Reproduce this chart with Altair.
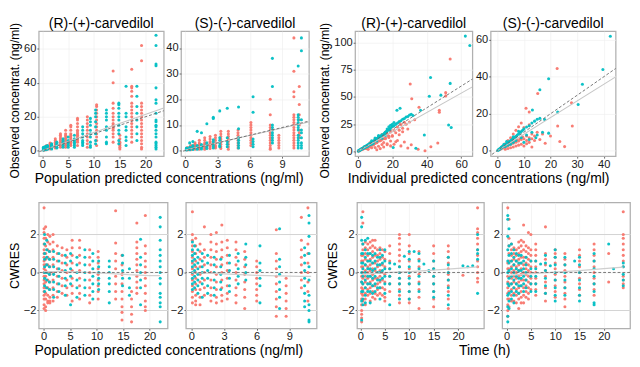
import altair as alt
import pandas as pd

RED = "#F8766D"
TEAL = "#00BFC4"
FONT = "Liberation Sans"

# ---------------- data: (R) population predicted vs observed ----------------
tl_r_red = {
    0.3: [0.2, 0.5, 0.8, 1.0, 1.3, 1.6, 2.0],
    0.8: [0.5, 1, 1.5, 2, 2.5, 3],
    1.5: [1, 1.5, 2, 2.5, 3, 3.5, 4, 4.5],
    2.5: [1.5, 2.5, 3, 4, 5, 6, 7],
    3.5: [2, 3, 4, 5, 6, 7, 8, 9, 10],
    4.5: [2, 3, 4, 5, 6, 7, 8, 9, 10, 12],
    5.5: [3, 4, 5, 6, 7, 8, 9, 10, 12, 14, 15],
    6.8: [3, 5, 6, 7, 8, 9, 10, 11, 12, 14, 16, 18, 19],
    8.7: [2, 4, 6, 8, 10, 12, 14, 16, 18, 20],
    10.5: [3, 6, 8, 10, 12, 14, 16, 18, 20, 22, 24, 26, 27],
    13.7: [5, 8, 10, 12, 13, 14, 15, 16, 18, 20, 22, 25, 28, 40, 47],
    15.0: [1, 2, 3, 4, 5, 7, 9],
    17.3: [5, 8, 10, 12, 14, 16, 18, 20, 22, 24, 26, 28, 32, 35, 37, 38, 48],
    19.2: [1, 2, 4, 6, 8, 10, 12, 14, 16, 18, 20, 22, 24, 26, 28, 53, 62],
}
tl_r_teal = {
    0.2: [0.3, 0.6, 1, 1.3, 1.6, 2],
    0.6: [0.5, 1, 1.5, 2, 2.5],
    1.0: [0.8, 1.2, 1.6, 2, 2.4, 3],
    1.8: [1, 1.5, 2, 2.5, 3, 3.5, 4],
    2.8: [1.5, 2, 3, 3.5, 4, 5],
    4.0: [2, 3, 4, 5, 6, 7],
    5.0: [2, 3, 4, 5, 6, 8],
    6.2: [2, 3, 4, 5, 6, 7, 9],
    7.8: [3, 4, 5, 6, 8, 10, 12, 14],
    9.3: [2, 3, 5, 8, 10, 12, 15, 17, 19],
    10.3: [4, 6, 10, 14, 17, 20, 22, 24],
    12.4: [4, 5, 8, 12, 14, 18, 20, 22, 24],
    14.8: [4, 6, 10, 12, 15, 18, 20, 22, 25, 27, 28],
    16.2: [3, 6, 8, 12, 14, 20, 22, 38],
    18.3: [6, 10, 14, 18, 22, 26, 32, 38],
    22.0: [1, 2, 3, 4, 5, 8, 10, 12, 14, 15, 17, 18, 22, 28, 30, 37, 50, 51, 62, 68],
}
tl_r_fit_x = [0, 23.5]
tl_r_fit_y = [0, 25.1]

# ---------------- (S) population predicted vs observed ----------------
tl_s_red = {
    0.2: [0.2, 0.5, 0.8, 1.2],
    0.5: [0.3, 0.6, 1, 1.5, 2],
    0.9: [0.5, 1, 1.5, 2, 2.5, 3],
    1.3: [0.5, 1, 1.5, 2, 2.5, 3, 4],
    1.8: [0.5, 1, 1.5, 2, 2.5, 3, 4, 5],
    2.3: [0.8, 1.5, 2, 2.5, 3, 3.5, 4.5, 5.5],
    2.8: [1, 1.5, 2, 3, 4, 5, 6],
    3.3: [0.8, 1.5, 2.5, 3.5, 4.5, 5.5, 6.5, 7.5],
    4.0: [0.5, 1.5, 2.5, 3.5, 4.5, 5.5, 6.5, 7.5],
    4.9: [1, 2, 3, 4, 5, 6, 7, 8],
    6.1: [2, 3, 4, 5, 6, 7, 8, 9, 10, 11],
    7.9: [0.5, 1, 2, 3, 4, 5, 6, 7, 8, 9, 10, 14, 20],
    8.7: [1, 2, 3, 4, 5, 6],
    10.1: [1, 2, 3, 4, 5, 6, 7, 8, 9, 10, 11, 12, 13, 14, 21, 23, 31, 44],
    10.6: [5, 6, 7, 8, 10, 12, 14, 18, 25],
}
tl_s_teal = {
    0.1: [0.2, 0.5, 0.8, 1],
    0.4: [0.3, 0.6, 1, 1.3, 3],
    0.7: [0.4, 0.8, 1.2, 1.6, 2, 3.5],
    1.1: [0.5, 1, 1.5, 2, 7.5],
    1.5: [0.6, 1.2, 1.8, 2.4, 7],
    2.0: [0.8, 1.5, 2.2, 3, 10.5],
    2.6: [1, 1.8, 2.6, 3.4, 4.2, 13, 12.5],
    3.2: [1.5, 2, 3, 4, 5, 15.5],
    3.9: [1.5, 2.5, 3.5, 5, 16.5],
    4.95: [1, 2, 3, 4, 5, 8.5, 17],
    6.3: [1.5, 2.5, 3.5, 4.5, 15, 21],
    8.1: [3, 4, 5, 6, 7, 8, 9, 10, 25, 36],
    10.5: [1, 2, 3, 4, 5, 6, 8, 9, 10, 11, 12, 13, 14, 33],
    10.8: [1, 2, 3, 5, 7, 8, 12, 39, 44],
}
tl_s_fit_x = [0, 11.5]
tl_s_fit_y = [0.2, 11.2]

# ---------------- (R) individual predicted vs observed ----------------
tr_r_teal_x = [0.2, 0.4, 0.6, 0.8, 1.0, 1.2, 1.5, 1.8, 2.0, 2.3, 2.6, 3.0, 3.3, 3.6, 4.0, 4.4, 4.8, 5.2, 5.6, 6.0,
               6.5, 7.0, 7.5, 8.0, 8.5, 9.0, 9.5, 10, 10.5, 11, 11.5, 12, 12.5, 13, 13.5, 14, 15, 15.5, 16, 16.5,
               17, 18, 18.5, 19, 20, 21, 22, 23, 24, 25, 26, 27, 28, 29, 30, 31, 32, 21, 20, 19,
               18, 9, 11, 6, 8, 3, 5, 7, 4, 22.7, 24.5, 36.4, 42.2, 41.5, 48.2, 53.6, 52.7, 54.2, 38.6, 33.7,
               20.5, 62.4, 65, 14, 16, 17, 12, 10, 8]
tr_r_teal_y = [0.2, 0.5, 0.6, 0.9, 1.1, 1.0, 1.6, 1.7, 2.2, 2.1, 2.8, 3.1, 3.0, 3.9, 4.1, 4.6, 4.7, 5.6, 5.4, 6.3,
               6.8, 7.2, 7.9, 8.3, 8.4, 9.5, 9.8, 10.6, 10.4, 11.8, 12.2, 12.9, 12.0, 14.0, 13.8, 15.2, 16.0, 16.8, 17.5, 18.2,
               18.8, 19.7, 20.5, 21.5, 22.8, 23.5, 24.8, 26.0, 27.5, 28.2, 29.5, 30.2, 31.5, 32.0, 33.5, 34.2, 33.0, 26.5, 25, 24,
               22.5, 7.5, 9.5, 4.8, 6.5, 2.5, 4, 6, 3.3, 37.8, 39.7, 37.8, 68, 50.6, 51.7, 62.5, 24.2, 21.9, 15, 2.9,
               3.5, 106, 97.4, 12, 14.5, 20.5, 14.5, 12.2, 9.8]
tr_r_red_x = [0.5, 1, 1.5, 2, 2.5, 3, 3.5, 4, 4.5, 5, 5.5, 6, 6.5, 7, 7.5, 8, 8.5, 9, 9.5, 10,
              10.5, 11, 11.5, 12, 12.5, 13, 13.5, 14, 14.5, 15, 15.5, 16, 17, 17.5, 18, 19, 20, 21, 22, 23,
              24, 25, 26, 27, 5, 6, 7, 8, 9, 10, 11, 12, 13, 14, 15, 16, 17, 18, 19, 20,
              22, 24, 11, 13, 15, 17, 19, 21, 23, 25, 27, 29, 31, 35, 39, 42.4, 46.4, 30.4, 31.3, 35.5,
              47.3, 47.3, 53.6, 51, 51, 28, 30, 33, 29, 26, 24, 20, 18, 16, 12, 14, 10, 7, 4, 2]
tr_r_red_y = [0.4, 0.6, 1.3, 1.4, 2.1, 2.0, 3.1, 2.6, 3.9, 3.3, 4.9, 4.1, 5.9, 4.8, 6.9, 5.5, 8.0, 6.4, 8.9, 7.3,
              10.1, 8.2, 11.0, 9.4, 12.2, 9.9, 13.1, 11.0, 14.4, 11.6, 15.2, 12.5, 15.9, 14.8, 13.9, 17.8, 14.6, 19.2, 17.0, 22.4,
              19.5, 24.6, 21.2, 26.8, 2.5, 1.8, 4.1, 3.2, 5.8, 3.5, 7.9, 4.6, 9.8, 6.2, 8.1, 11.5, 7.0, 12.8, 9.5, 13.9,
              8.8, 15.2, 1.5, 2.5, 4.0, 6.0, 5.0, 6.5, 10.0, 5.0, 8.5, 3.0, 6.0, 2.0, 0.5, 4.3, 7.7, 62, 48.3, 40.6,
              37.8, 36, 85, 54, 51, 25, 27, 29, 20.5, 18, 26.5, 22.5, 20, 17.8, 13.5, 15.5, 11.5, 7.8, 4.5, 2.3]
tr_r_fit_x = [0, 66.5]
tr_r_fit_y = [0, 59.3]

# ---------------- (S) individual predicted vs observed ----------------
tr_s_teal_x = [0.2, 0.4, 0.6, 0.8, 1.0, 1.2, 1.5, 1.8, 2.0, 2.3, 2.6, 3.0, 3.3, 3.6, 4.0, 4.4, 4.8, 5.2, 5.6, 6.0,
               6.5, 7.0, 7.5, 8.0, 8.5, 9.0, 9.5, 10, 11, 12, 13, 14, 15, 16, 17.8, 19.3, 22.7, 30.4, 32, 19.3,
               16, 39.7, 42.5, 13.2, 5, 7, 9, 3, 4, 6, 11, 13, 14.5, 15, 17, 10, 12, 6, 8, 3.5, 2.5, 1.5]
tr_s_teal_y = [0.2, 0.4, 0.7, 0.8, 1.1, 1.2, 1.6, 1.8, 2.2, 2.4, 2.8, 3.2, 3.5, 3.9, 4.3, 4.8, 5.2, 5.6, 6.1, 6.6,
               7.2, 7.8, 8.5, 9.0, 9.8, 10.4, 11.0, 11.8, 12.8, 13.5, 15.0, 16.0, 17.0, 17.5, 16.9, 9.5, 21, 25, 36, 39,
               33, 44, 62, 22, 3.5, 5.5, 7, 2.2, 3, 4.5, 8.5, 10, 7, 8.5, 10, 4.5, 6, 7.5, 10.5, 5, 3.5, 2]
tr_s_red_x = [0.5, 1, 1.5, 2, 2.5, 3, 3.5, 4, 4.5, 5, 5.5, 6, 6.5, 7, 7.5, 8, 8.5, 9, 9.5, 10,
              11, 12, 13, 14, 15, 3, 4, 5, 6, 7, 8, 9, 10, 11, 12, 13, 14, 16, 18, 22.5,
              15.2, 10.8, 12, 27.9, 28.2, 22.7, 23.5, 25.3, 8, 9, 7, 6, 10, 12, 5, 4, 2, 3, 11, 13,
              17, 20]
tr_s_red_y = [0.4, 0.7, 1.0, 1.4, 1.8, 2.0, 2.6, 2.8, 3.4, 3.5, 4.2, 4.0, 5.0, 4.6, 5.8, 5.2, 6.5, 6.0, 7.5, 6.5,
              8.0, 7.0, 9.0, 8.0, 10.0, 0.8, 1.2, 1.6, 2.0, 2.5, 3.0, 3.5, 2.5, 3.8, 4.5, 2.0, 5.5, 6.0, 4.0, 44.5,
              31, 23, 21, 25.9, 13.4, 13.4, 5, 2.2, 13, 15, 11, 9, 12.5, 14, 7, 5.5, 2.5, 3.8, 5.5, 6.5,
              9, 8]
tr_s_fit_x = [0, 44.5]
tr_s_fit_y = [0, 40]

# ---------------- CWRES vs population predicted ----------------
bl_r_red = {
    0.1: [3.4, 2.3, 2.1, 1.8, 1.5, 1.2, 1.0, 0.8, 0.6, 0.4, 0.2, 0, -0.2, -0.4, -0.6, -0.8, -1.0, -1.2, -1.4, -1.7, -1.9],
    0.4: [2.4, 1.8, 1.4, 1.0, 0.7, 0.4, 0.1, -0.2, -0.5, -0.8, -1.1, -1.4, -1.8, -2.0],
    0.8: [2.0, 1.6, 1.2, 0.8, 0.4, 0, -0.4, -0.8, -1.2, -1.5, -1.6],
    1.2: [1.9, 1.5, 1.1, 0.7, 0.3, -0.1, -0.5, -0.9, -1.3, -1.6, -1.5],
    1.8: [2.0, 1.6, 1.2, 0.8, 0.4, 0, -0.4, -0.8, -1.2, -1.5],
    2.6: [1.4, 1.0, 0.6, 0.2, -0.2, -0.6, -1.0, -1.3],
    3.5: [1.3, 0.9, 0.5, 0.1, -0.3, -0.7, -1.1],
    4.4: [1.2, 0.8, 0.4, 0, -0.4, -0.8, -1.2],
    5.4: [1.7, 1.3, 0.9, 0.5, 0.1, -0.3, -0.7, -1.1, -1.5],
    6.8: [1.7, 1.3, 0.9, 0.5, 0.1, -0.3, -0.7, -1.1, -1.4],
    8.7: [1.2, 0.8, 0.4, 0, -0.4, -0.8, -1.2, -1.6],
    10.3: [1.1, 0.8, 0.5, 0.2, -0.1, -0.4, -0.7, -1.0, -1.4],
    13.6: [3.25, 1.55, 1.0, 0.6, 0.2, -0.2, -0.6, -1.0, -1.4],
    14.8: [0.9, 0.4, -0.1, -0.6, -1.0, -1.4, -1.8, -2.1, -2.5],
    16.6: [-1.0, -1.4, -1.8, -2.2, -2.6],
    17.6: [2.6, 1.6, 1.3, 1.0, 0.7, 0.4, 0.1, -0.2, -0.5, -0.8, -1.1],
    19.2: [3.0, 1.4, 1.0, 0.6, 0.3, 0, -0.3, -0.7, -1.1, -1.5, -1.8, -2.0],
}
bl_r_teal = {
    0.2: [2.0, 1.5, 1.0, 0.7, 0.3, 0, -0.3, -0.7, -1.0],
    0.6: [1.7, 1.2, 0.8, 0.4, 0, -0.4, -0.8],
    1.1: [1.1, 0.7, 0.3, -0.1, -0.5, -0.9],
    1.9: [1.1, 0.7, 0.3, -0.1, -0.5, -0.9, -1.3],
    2.9: [1.0, 0.6, 0.2, -0.2, -0.6, -1.0],
    4.1: [0.9, 0.5, 0.1, -0.3, -0.7, -1.2],
    5.1: [1.0, 0.6, 0.2, -0.2, -0.6, -1.7],
    6.3: [0.8, 0.4, 0, -0.4, -0.8, -1.3],
    7.8: [1.2, 0.8, 0.4, 0, -0.4, -0.8, -1.2],
    9.3: [1.0, 0.6, 0.2, -0.2, -0.6, -1.0, -1.4],
    10.4: [0.6, 0.3, 0, -0.3, -0.6, -0.9],
    12.4: [0.6, 0.3, 0, -0.3, -0.6, -1.0, -1.6],
    14.9: [0.9, 0.5, 0.1, -0.3, -0.7],
    16.2: [0.2, -0.3, -0.8, -1.2],
    18.3: [1.75, 0.8, 0.4, 0, -0.4, -0.8, -1.7],
    22.0: [2.9, 2.4, 1.7, 1.2, 0.9, 0.6, 0.3, 0, -0.3, -0.6, -1.1, -1.3, -1.6, -1.8, -2.6],
}
bl_r_smooth_x = [0, 4, 8, 12, 16, 20, 22]
bl_r_smooth_y = [0.05, 0.05, 0, -0.05, -0.12, -0.16, -0.16]

bl_s_red = {
    0.1: [3.2, 2.0, 1.7, 1.4, 1.1, 0.8, 0.5, 0.2, -0.1, -0.4, -0.7, -1.0, -1.3, -1.6],
    0.4: [1.8, 1.4, 1.0, 0.6, 0.3, 0, -0.3, -0.6, -0.9, -1.2, -1.5, -1.7],
    0.8: [1.5, 1.1, 0.7, 0.3, -0.1, -0.5, -0.9, -1.3, -1.7],
    1.2: [2.4, 1.2, 0.8, 0.4, 0, -0.4, -0.8, -1.2],
    1.8: [2.0, 1.6, 1.2, 0.8, 0.4, 0, -0.4, -0.8, -1.2, -1.5],
    2.3: [2.1, 1.5, 1.1, 0.7, 0.3, -0.1, -0.5, -0.9, -1.3, -1.6],
    2.8: [2.5, 1.6, 1.2, 0.8, 0.4, 0, -0.4, -0.8, -1.2, -1.5],
    3.3: [1.7, 1.3, 0.9, 0.5, 0.1, -0.3, -0.7, -1.1, -1.4],
    4.1: [1.6, 1.2, 0.8, 0.4, 0, -0.4, -0.8, -1.2, -1.6],
    4.9: [1.1, 0.7, 0.3, -0.1, -0.5, -0.9, -1.3, -1.9],
    6.0: [0.6, 0.3, 0, -0.3, -0.6, -0.9, -1.2, -1.5],
    7.8: [2.25, 1.0, 0.6, 0.2, -0.2, -0.6, -1.0, -1.4, -1.8, -2.3],
    8.7: [-0.3, -0.7, -1.1, -1.5, -1.9, -2.3],
    10.1: [2.9, 1.7, 1.2, 0.8, 0.4, 0, -0.4, -0.8],
    10.7: [3.4, 1.5, 1.0, 0.5, 0, -0.5, -1.0, -1.5],
}
bl_s_teal = {
    0.1: [1.6, 1.2, 0.9, 0.6, 0.3, 0, -0.3, -0.6, -0.9],
    0.3: [1.4, 1.0, 0.7, 0.4, 0.1, -0.2, -0.5, -0.8],
    0.6: [1.2, 0.8, 0.5, 0.2, -0.1, -0.4, -0.7, -1.1],
    1.0: [1.0, 0.6, 0.3, 0, -0.3, -0.6, -1.3],
    1.5: [0.9, 0.5, 0.1, -0.3, -0.7, -1.1],
    2.1: [0.8, 0.4, 0, -0.4, -0.8, -1.2],
    2.7: [0.7, 0.3, -0.1, -0.5, -0.9],
    3.5: [0.9, 0.5, 0.1, -0.3, -0.7, -1.0],
    4.3: [1.0, 0.6, 0.2, -0.2, -0.6],
    5.0: [1.5, 0.8, 0.4, 0, -0.4],
    6.3: [1.4, 0.5, 0.1, -0.3, -0.7, -1.6],
    8.1: [2.3, 0.7, 0.3, -0.1, -0.5, -0.9, -1.3, -1.9],
    10.4: [1.3, 0.9, 0.5, 0.1, -0.3, -0.7, -1.1, -1.5, -1.8],
    10.8: [3.0, 2.6, 1.9, 1.0, 0.3, -0.4, -1.2, -1.7, -2.0, -2.5, -2.6],
}
bl_s_smooth_x = [0, 2, 4, 6, 8, 10, 11]
bl_s_smooth_y = [0, -0.05, -0.1, -0.15, -0.18, -0.2, -0.2]

# ---------------- CWRES vs time ----------------
br_r_red = {
    0.25: [-2.6, -2.4, -2.2, -2.0, -1.7, -1.4, -1.1, -0.8, -0.5, -0.2, 0.3, 0.6, 0.9],
    0.5: [3.2, 2.6, 1.5, 1.2, 0.9, 0.6, 0.3, 0, -0.3, -0.6, -0.9, -1.2, -1.5],
    1: [1.6, 1.3, 1.0, 0.7, 0.4, 0.1, -0.2, -0.5, -0.8, -1.1, -1.4, -1.7],
    1.5: [1.5, 1.2, 0.9, 0.6, 0.3, 0, -0.3, -0.6, -0.9, -1.2],
    2: [1.6, 1.3, 1.0, 0.7, 0.4, 0.1, -0.2, -0.5, -0.8, -1.1, -1.5],
    2.5: [1.7, 1.4, 1.1, 0.8, 0.5, 0.2, -0.1, -0.4, -0.7, -1.0, -1.3],
    3: [1.7, 1.3, 0.9, 0.5, 0.1, -0.3, -0.7, -1.1, -1.4],
    3.5: [1.2, 0.9, 0.6, 0.3, 0, -0.3, -0.6, -0.9, -1.2],
    4: [1.3, 1.0, 0.7, 0.4, 0.1, -0.2, -0.5, -0.8, -1.1],
    4.5: [1.2, 0.8, 0.4, 0, -0.4, -0.8, -1.2],
    5: [1.1, 0.7, 0.3, -0.1, -0.5, -0.9, -1.3, -1.5],
    6: [1.4, 1.0, 0.6, 0.2, -0.2, -0.6, -1.0],
    8: [2.0, 1.8, 1.5, 1.2, 0.9, 0.6, 0.3, 0, -0.3, -0.6, -0.9, -1.2, -1.6],
    10: [2.0, 1.4, 1.0, 0.6, 0.2, -0.2, -0.6, -1.0, -1.4, -1.6],
    12: [1.1, 0.7, 0.3, -0.1, -0.5, -0.9, -1.3, -1.9],
    15: [1.4, 1.0, 0.6, 0.2, -0.2, -0.6, -1.0, -1.4, -1.8],
    18: [1.4, 1.1, 0.8, 0.5, 0.2, -0.1, -0.4, -0.7, -1.0, -1.4, -1.9],
    21: [-0.15],
    24: [3.4, 2.3, 2.1, 1.8, 1.5, 1.2, 0.9, 0.6, 0.3, 0, -0.3, -0.5],
}
br_r_teal = {
    0.25: [2.9, 2.4, 1.7, 1.0, 0.5, 0, -0.5, -1.0, -1.5, -2.5],
    0.5: [1.5, 1.0, 0.5, 0.2, -0.2, -0.6, -1.0, -1.4, -1.7],
    1: [1.7, 1.2, 0.8, 0.4, 0, -0.4, -0.8, -1.2, -1.6],
    1.5: [1.8, 1.0, 0.6, 0.2, -0.2, -0.6, -1.0],
    2: [1.0, 0.6, 0.2, -0.2, -0.6, -1.0, -1.6],
    2.5: [0.9, 0.5, 0.1, -0.3, -0.7, -1.1],
    3: [1.0, 0.6, 0.2, -0.2, -0.6, -1.0],
    3.5: [0.8, 0.4, 0, -0.4, -0.8],
    4: [1.2, 0.8, 0.4, 0, -0.4, -0.8, -1.4],
    4.5: [0.9, 0.5, 0.1, -0.3],
    5: [1.2, 0.6, 0.2, -0.2, -0.6, -1.1],
    6: [0.5, 0.2, -0.2, -0.6, -1.7],
    7: [0.45],
    8: [0.3, 0, -0.3, -0.6, -1.0, -1.4],
    9: [0.85],
    10: [1.1, 0.7, 0.3, 0, -0.3, -0.6, -1.0, -1.4],
    11: [1.1],
    12: [1.0, 0.6, 0.2, -0.2, -0.6, -1.0],
    13: [0.45],
    14: [0.1],
    15: [0.6, 0.2, -0.2, -0.6, -1.0, -1.3],
    18: [0.8, 0.4, 0, -0.4, -0.8, -1.2, -1.7],
    21: [0.35],
    22: [0.3],
    23: [0.35],
    24: [2.0, 1.2, 1.0, 0.7, -1.1],
}
br_r_smooth_x = [0.25, 3, 6, 10, 15, 20, 24]
br_r_smooth_y = [-0.1, -0.05, 0, 0.05, 0.12, 0.22, 0.3]

br_s_red = {
    0.25: [3.4, -2.3, -2.0, -1.7, -1.4, -1.1, -0.8, -0.5, -0.2, 0.2, 0.5],
    0.5: [2.8, 1.8, 1.4, 1.0, 0.6, 0.2, -0.2, -0.6, -1.0, -1.4, -1.8],
    1: [1.5, 1.2, 0.9, 0.6, 0.3, 0, -0.3, -0.6, -0.9, -1.2, -1.5],
    1.5: [1.3, 1.0, 0.7, 0.4, 0.1, -0.2, -0.5, -0.8, -1.1, -1.5],
    2: [1.2, 0.9, 0.6, 0.3, 0, -0.3, -0.6, -0.9, -1.2, -1.6],
    2.5: [1.6, 1.3, 1.0, 0.7, 0.4, 0.1, -0.2, -0.5, -0.8, -1.1, -1.4, -1.9],
    3: [1.7, 1.4, 1.1, 0.8, 0.5, 0.2, -0.1, -0.4, -0.7, -1.0, -1.3, -1.6],
    3.5: [2.5, 1.6, 1.2, 0.8, 0.4, 0, -0.4, -0.8, -1.2, -1.6],
    4: [1.4, 1.1, 0.8, 0.5, 0.2, -0.1, -0.4, -0.7, -1.0, -1.3],
    4.5: [2.1, 1.3, 1.0, 0.7, 0.4, 0.1, -0.2, -0.5, -0.8, -1.1, -1.4],
    5: [2.0, 1.2, 0.9, 0.6, 0.3, 0, -0.3, -0.6, -0.9],
    6: [1.5, 1.2, 0.9, 0.6, 0.3, 0, -0.3, -0.6, -0.9, -1.2],
    8: [2.4, 1.0, 0.7, 0.4, 0.1, -0.2, -0.5, -0.8, -1.1, -1.5],
    10: [1.2, 1.0, 0.8, 0.5, 0.2, -0.1, -0.4, -0.7, -1.0, -1.3],
    12: [1.0, 0.7, 0.4, 0.1, -0.2, -0.5, -0.8, -1.1, -1.4, -1.8],
    15: [1.2, 0.9, 0.6, 0.3, 0, -0.3, -0.6, -0.9, -1.2],
    18: [1.5, 1.2, 0.9, 0.6, 0.3, 0, -0.3, -0.6, -0.9, -1.2],
    21: [1.0, -0.5],
    24: [3.2, 2.0, 1.8, 1.5, 1.2, 0.9, 0.6, 0.3, -0.2, -0.4, -0.6, -0.8],
}
br_s_teal = {
    0.25: [3.0, 2.8, 1.9, 1.2, 0.6, 0, -0.6, -1.2, -1.8, -2.3, -2.6],
    0.5: [2.3, 1.4, 0.9, 0.5, 0.1, -0.3, -0.7, -1.1, -1.5, -1.9],
    1: [1.5, 1.0, 0.6, 0.2, -0.2, -0.6, -1.0, -1.4],
    1.5: [1.2, 0.8, 0.4, 0, -0.4, -0.8, -1.2, -1.6],
    2: [1.0, 0.6, 0.2, -0.2, -0.6, -1.0],
    2.5: [0.9, 0.5, 0.1, -0.3, -0.7, -1.1],
    3: [0.9, 0.5, 0.1, -0.3, -0.7],
    3.5: [0.6, 0.2, -0.2, -0.6, -1.0],
    4: [0.8, 0.4, 0, -0.4, -0.8],
    5: [0.6, 0.2, -0.2, -0.6, -1.0],
    6: [0.6, 0.2, -0.2, -0.6, -1.0],
    7: [0.45],
    8: [0.9, 0.5, 0.1, -0.3, -0.7, -1.1],
    9: [0.35],
    10: [1.2, 0.8, 0.4, 0, -0.4, -0.8, -1.2, -1.5],
    12: [0.8, 0.4, 0, -0.4, -0.8, -1.2],
    14: [0.6],
    15: [0.8, 0.4, 0, -0.4, -0.8, -1.2, -1.5],
    18: [1.0, 0.6, 0.2, -0.2, -0.6, -1.0, -1.6, -1.7],
    21: [1.5],
    22: [0.2],
    24: [0.5, 0.3, -0.1, -0.4, -0.7],
}
br_s_smooth_x = [0.25, 3, 6, 10, 15, 20, 24]
br_s_smooth_y = [-0.15, -0.1, -0.05, 0.02, 0.1, 0.2, 0.28]

cwres_bands = [-2, 2]
titles = ["(R)-(+)-carvedilol", "(S)-(-)-carvedilol"]


# ---------------- helpers ----------------
def cols_df(red, teal):
    rows = []
    for x, ys in red.items():
        rows += [{"x": x, "y": y, "g": "a"} for y in ys]
    for x, ys in teal.items():
        rows += [{"x": x, "y": y, "g": "b"} for y in ys]
    return pd.DataFrame(rows)


def pairs_df(rx, ry, tx, ty):
    rows = [{"x": a, "y": b, "g": "a"} for a, b in zip(rx, ry)]
    rows += [{"x": a, "y": b, "g": "b"} for a, b in zip(tx, ty)]
    return pd.DataFrame(rows)


def panel(pts, xdom, ydom, xt, yt, w, h, ytitle=None, title=None,
          identity=None, fit=None, smooth=None, cwres=False):
    xs = alt.Scale(domain=xdom, nice=False, zero=False)
    ys = alt.Scale(domain=ydom, nice=False, zero=False)
    xax = alt.Axis(values=xt, title=None)
    yax = alt.Axis(values=yt, title=ytitle)
    X = alt.X("x:Q", scale=xs, axis=xax)
    Y = alt.Y("y:Q", scale=ys, axis=yax)
    layers = []
    if cwres:
        band = pd.DataFrame({"y": cwres_bands})
        layers.append(alt.Chart(band).mark_rule(color="#d4d4d4", strokeWidth=1.2).encode(
            y=alt.Y("y:Q", scale=ys, axis=yax)))
    layers.append(alt.Chart(pts).mark_circle(size=10, opacity=0.95).encode(
        x=X, y=Y,
        color=alt.Color("g:N", scale=alt.Scale(domain=["a", "b"], range=[RED, TEAL]), legend=None)))
    if fit is not None:
        fd = pd.DataFrame({"x": fit[0], "y": fit[1]})
        layers.append(alt.Chart(fd).mark_line(color="#c6c6c6", strokeWidth=1.1, clip=True).encode(x=X, y=Y))
    if smooth is not None:
        sd = pd.DataFrame({"x": smooth[0], "y": smooth[1]})
        layers.append(alt.Chart(sd).mark_line(color="#cfcfcf", strokeWidth=1.3, clip=True).encode(x=X, y=Y))
    if identity is not None:
        idd = pd.DataFrame({"x": identity, "y": identity})
        layers.append(alt.Chart(idd).mark_line(color="#666666", strokeWidth=0.9, strokeDash=[3, 2],
                                               clip=True).encode(x=X, y=Y))
    if cwres:
        zero = pd.DataFrame({"y": [0]})
        layers.append(alt.Chart(zero).mark_rule(color="#666666", strokeWidth=0.9, strokeDash=[3, 2]).encode(
            y=alt.Y("y:Q", scale=ys, axis=yax)))
    ch = alt.layer(*layers).properties(width=w, height=h)
    if title:
        ch = ch.properties(title=alt.TitleParams(title, anchor="middle", frame="group", offset=0))
    return ch


def group(a, b, sp, xtitle, dx, ytitle=None):
    g = alt.hconcat(a, b, spacing=sp).properties(
        title=alt.TitleParams(xtitle, orient="bottom", anchor="middle", offset=2, dx=dx))
    if ytitle:
        g = alt.hconcat(g).properties(
            title=alt.TitleParams(ytitle, orient="left", anchor="middle", offset=2, fontSize=12.5))
    return g


YT = "Observed concentrat. (ng/ml)"
HT, HB = 130, 131

tl1 = panel(cols_df(tl_r_red, tl_r_teal), [-0.7, 23.5], [-3.3, 70.4], [0, 5, 10, 15, 20], [0, 20, 40, 60],
            130, HT, title=titles[0], identity=[-5, 80], fit=(tl_r_fit_x, tl_r_fit_y))
tl2 = panel(cols_df(tl_s_red, tl_s_teal), [-0.4, 11.5], [-2.2, 46.6], [0, 3, 6, 9], [0, 10, 20, 30, 40],
            133, HT, title=titles[1], identity=[-5, 80], fit=(tl_s_fit_x, tl_s_fit_y))
tr1 = panel(pairs_df(tr_r_red_x, tr_r_red_y, tr_r_teal_x, tr_r_teal_y), [-1.6, 66.5], [-4.5, 110.5],
            [0, 20, 40, 60], [0, 25, 50, 75, 100], 122, HT, title=titles[0],
            identity=[-5, 120], fit=(tr_r_fit_x, tr_r_fit_y))
tr2 = panel(pairs_df(tr_s_red_x, tr_s_red_y, tr_s_teal_x, tr_s_teal_y), [-2.5, 44.5], [-3, 64.7],
            [0, 10, 20, 30, 40], [0, 20, 40, 60], 130, HT, title=titles[1],
            identity=[-5, 80], fit=(tr_s_fit_x, tr_s_fit_y))

bl1 = panel(cols_df(bl_r_red, bl_r_teal), [-0.9, 23.4], [-2.94, 3.69], [0, 5, 10, 15, 20], [-2, 0, 2],
            134, HB, ytitle="CWRES", smooth=(bl_r_smooth_x, bl_r_smooth_y), cwres=True)
bl2 = panel(cols_df(bl_s_red, bl_s_teal), [-0.5, 11.5], [-2.94, 3.69], [0, 3, 6, 9], [-2, 0, 2],
            136, HB, smooth=(bl_s_smooth_x, bl_s_smooth_y), cwres=True)
br1 = panel(cols_df(br_r_red, br_r_teal), [-0.7, 25.3], [-2.94, 3.69], [0, 5, 10, 15, 20], [-2, 0, 2],
            132, HB, ytitle="CWRES", smooth=(br_r_smooth_x, br_r_smooth_y), cwres=True)
br2 = panel(cols_df(br_s_red, br_s_teal), [-0.9, 25.4], [-2.94, 3.69], [0, 5, 10, 15, 20], [-2, 0, 2],
            133, HB, smooth=(br_s_smooth_x, br_s_smooth_y), cwres=True)

top = alt.hconcat(group(tl1, tl2, 0, "Population predicted concentrations (ng/ml)", 3, YT),
                  group(tr1, tr2, 1, "Individual predicted concentrations (ng/ml)", 4, YT),
                  spacing=9)
bottom = alt.hconcat(group(bl1, bl2, 0, "Population predicted concentrations (ng/ml)", 6),
                     group(br1, br2, 0, "Time (h)", 6),
                     spacing=8)

chart = alt.vconcat(top, bottom, spacing=16).properties(
    padding={"left": 0, "top": 0, "right": 0, "bottom": 0}, background="white"
).configure_view(
    stroke="#b0b0b0", strokeWidth=1.3
).configure_axis(
    labelFont=FONT, labelFontSize=11.5, labelColor="#1a1a1a", labelPadding=1, labelFlush=False,
    tickSize=2, tickColor="#444444", tickWidth=0.8, domain=False,
    grid=True, gridColor="#efefef", gridWidth=0.7,
    titleFont=FONT, titleFontSize=13, titleFontWeight="normal", titleColor="#000000", titlePadding=2
).configure_title(
    font=FONT, fontSize=14.5, fontWeight="normal", color="#000000"
)

chart.save("out.html", embed_options={"renderer": "svg", "actions": False})
